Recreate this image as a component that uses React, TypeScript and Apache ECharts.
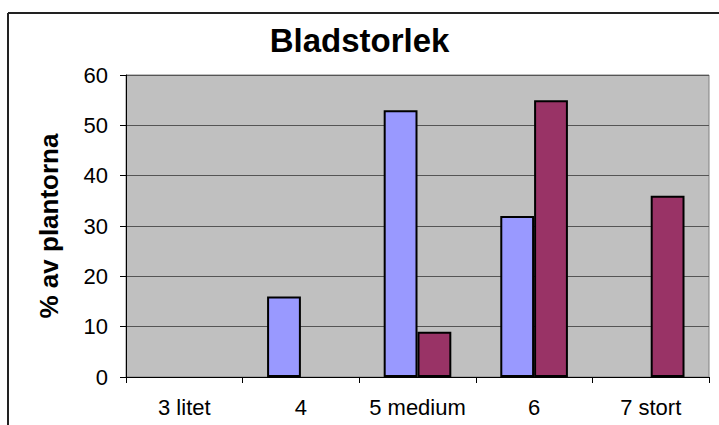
import React, { useEffect, useRef } from "react";
import * as echarts from "echarts";

const categories = ["3 litet", "4", "5 medium", "6", "7 stort"];
const seriesA = [0, 16, 53, 32, 0];
const seriesB = [0, 0, 9, 55, 36];
const titleText = "Bladstorlek";
const yAxisName = "% av plantorna";

const toBarData = (values: number[]) =>
  values.map((v) => (v === 0 ? { value: v, itemStyle: { borderWidth: 0, opacity: 0 } } : v));

export default function App() {
  const ref = useRef<HTMLDivElement>(null);
  useEffect(() => {
    if (!ref.current) return;
    const chart = echarts.init(ref.current, undefined, { renderer: "svg" });
    const font = "'Liberation Sans', Arial, sans-serif";
    chart.setOption({
      animation: false,
      backgroundColor: "#ffffff",
      title: {
        text: titleText,
        left: "center",
        top: 19,
        textStyle: { fontFamily: font, fontSize: 33, fontWeight: "bold", color: "#000" },
      },
      graphic: [
        { type: "line", shape: { x1: 8, y1: 13, x2: 719, y2: 13 }, style: { stroke: "#222", lineWidth: 2 } },
        { type: "line", shape: { x1: 8, y1: 13, x2: 8, y2: 425 }, style: { stroke: "#222", lineWidth: 2 } },
      ],
      grid: {
        left: 126,
        top: 75,
        right: 10,
        bottom: 48,
        show: true,
        backgroundColor: "#C0C0C0",
        borderColor: "#808080",
        borderWidth: 1,
      },
      xAxis: {
        type: "category",
        data: categories,
        axisLine: { lineStyle: { color: "#000", width: 1 } },
        axisTick: { show: true, interval: 0, length: 6, lineStyle: { color: "#000" } },
        axisLabel: { fontFamily: font, fontSize: 22, color: "#000", margin: 19, interval: 0 },
      },
      yAxis: {
        type: "value",
        min: 0,
        max: 60,
        interval: 10,
        name: yAxisName,
        nameLocation: "middle",
        nameRotate: 90,
        nameGap: 64,
        nameTextStyle: { fontFamily: font, fontSize: 26, fontWeight: "bold", color: "#000" },
        axisLine: { show: true, lineStyle: { color: "#000", width: 1 } },
        axisTick: { show: true, length: 6, lineStyle: { color: "#000" } },
        axisLabel: { fontFamily: font, fontSize: 22, color: "#000", margin: 18 },
        splitLine: { show: true, lineStyle: { color: "#555", width: 1 } },
      },
      series: [
        {
          type: "bar",
          data: toBarData(seriesA),
          barGap: "0%",
          barCategoryGap: "42%",
          itemStyle: { color: "#9999FF", borderColor: "#000", borderWidth: 2 },
        },
        {
          type: "bar",
          data: toBarData(seriesB),
          barGap: "0%",
          barCategoryGap: "42%",
          itemStyle: { color: "#993366", borderColor: "#000", borderWidth: 2 },
        },
      ],
    });
    return () => chart.dispose();
  }, []);
  return (
    <div
      ref={ref}
      style={{ position: "absolute", left: 0, top: 0, width: 719, height: 425 }}
    />
  );
}
